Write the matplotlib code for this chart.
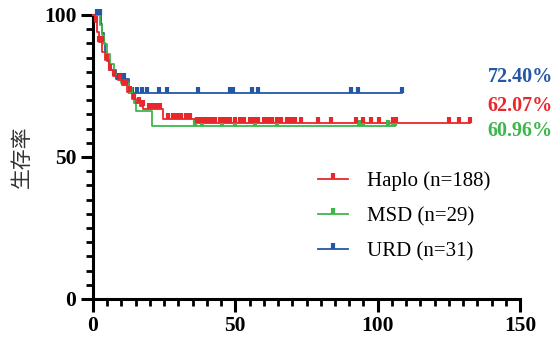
import numpy as np
import matplotlib
matplotlib.use("Agg")
import matplotlib.pyplot as plt
from matplotlib.lines import Line2D

# ---- data ----
groups = ["Haplo (n=188)", "MSD (n=29)", "URD (n=31)"]
colors = ["#e8272b", "#3db64b", "#2456a6"]
final_labels = ["62.07%", "60.96%", "72.40%"]

haplo_t = [0, 0.7, 1.5, 2.2, 3.3, 4.3, 5.6, 7, 8.8, 10.2, 12, 13.7, 15, 16.5, 17.6, 24.6, 36]
haplo_s = [100, 97.6, 94, 90.5, 87, 84, 80.5, 78.5, 77, 75.3, 73, 70.5, 69, 67.8, 66.8, 63.5, 62.07]
haplo_c = [1.2, 2.2, 3, 4.8, 6, 7.5, 9.5, 10.8, 11.5, 13, 14.5, 16, 17.5, 19.5, 20.5, 21.5, 22.5, 23.5,
           26.5, 28, 29.5, 31, 32.5, 34, 36.5, 37.5, 38.5, 39.5, 40.5, 41.5, 43, 44.5, 46, 47, 48, 50,
           51.5, 53, 55, 56.5, 58, 60, 61.5, 63, 64.5, 66, 68, 69.5, 71, 73, 79, 83.5, 92.5, 94.7,
           97.5, 100.4, 105.3, 106.3, 125, 128.5, 132.5]

msd_t = [0, 2.5, 3, 4, 5, 6, 7.5, 10, 12.5, 14.5, 15, 20.7]
msd_s = [100, 96.6, 93.1, 89.7, 86.2, 82.8, 79.3, 75.9, 72.4, 69, 66.2, 60.96]
msd_c = [13.5, 36, 38.4, 45.4, 50, 57, 64.8, 93.3, 95, 103.5, 105.3, 106]

urd_t = [0, 2.8, 3.3, 3.8, 4.3, 5, 5.7, 8, 12.8]
urd_s = [100, 96.8, 93.5, 90.3, 87.1, 83.9, 80.6, 77.4, 72.4]
urd_c = [1.5, 2.5, 9, 10, 11, 13.6, 15.4, 17.1, 18.9, 23.2, 26.1, 37, 48.2, 49.3, 56, 58.1, 90.5, 93, 108.5]

series = [(haplo_t, haplo_s, haplo_c), (msd_t, msd_s, msd_c), (urd_t, urd_s, urd_c)]

x_ticks = [0, 50, 100, 150]
y_ticks = [0, 50, 100]

plt.rcParams['font.family'] = ['Liberation Serif', 'DejaVu Serif']

fig = plt.figure(figsize=(5.57, 3.41), dpi=100)
ax = fig.add_axes([93/557, 42/341, 427/557, 284/341])

def level(ts, ss, t):
    idx = np.searchsorted(np.asarray(ts), t, side='right') - 1
    return np.asarray(ss)[idx]

for i in [2, 1, 0]:
    ts, ss, cs = series[i]
    end = max(cs)
    tt = list(ts) + [end]
    sv = list(ss) + [ss[-1]]
    ax.step(tt, sv, where='post', color=colors[i], lw=1.3, clip_on=False, zorder=3)
    cy = [level(ts, ss, c) for c in cs]
    ax.plot(cs, cy, ls='none', marker=2, ms=4, mew=3, color=colors[i], clip_on=False, zorder=4)

ax.set_xlim(0, 150)
ax.set_ylim(0, 100)
ax.spines['top'].set_visible(False)
ax.spines['right'].set_visible(False)
for s in ['left', 'bottom']:
    ax.spines[s].set_linewidth(2.2)
ax.set_xticks(x_ticks)
ax.set_yticks(y_ticks)
ax.set_xticks(np.arange(0, 151, 5), minor=True)
ax.set_yticks(np.arange(0, 101, 5), minor=True)
ax.tick_params(which='major', length=9, width=2.2, direction='out', labelsize=15.5, pad=3)
ax.tick_params(which='minor', length=5, width=2, direction='out')
for lab in ax.get_xticklabels() + ax.get_yticklabels():
    lab.set_fontweight('bold')

fig.text(22/557, (341-157)/341, "生存率", family=['Noto Sans CJK SC', 'DejaVu Sans'],
         fontsize=15, color='#333333', rotation=90, ha='center', va='center')

pct_y = {2: 78.2, 0: 68.0, 1: 59.2}
for i, yv in pct_y.items():
    ax.text(138.7, yv, final_labels[i], color=colors[i], fontsize=14.5, fontweight='bold',
            ha='left', va='center', clip_on=False)

handles = []
for i in range(3):
    h = Line2D([0, 0.5, 1], [0, 0, 0], color=colors[i], lw=1.3, marker=2, ms=4, mew=3,
               markevery=[1])
    handles.append(h)
leg = ax.legend(handles, groups, loc='upper left', bbox_to_anchor=(0.527, 0.45), frameon=False,
                fontsize=15, handlelength=1.45, handletextpad=0.9, labelspacing=0.75,
                borderaxespad=0, borderpad=0)

fig.savefig("out.png", dpi=100)
